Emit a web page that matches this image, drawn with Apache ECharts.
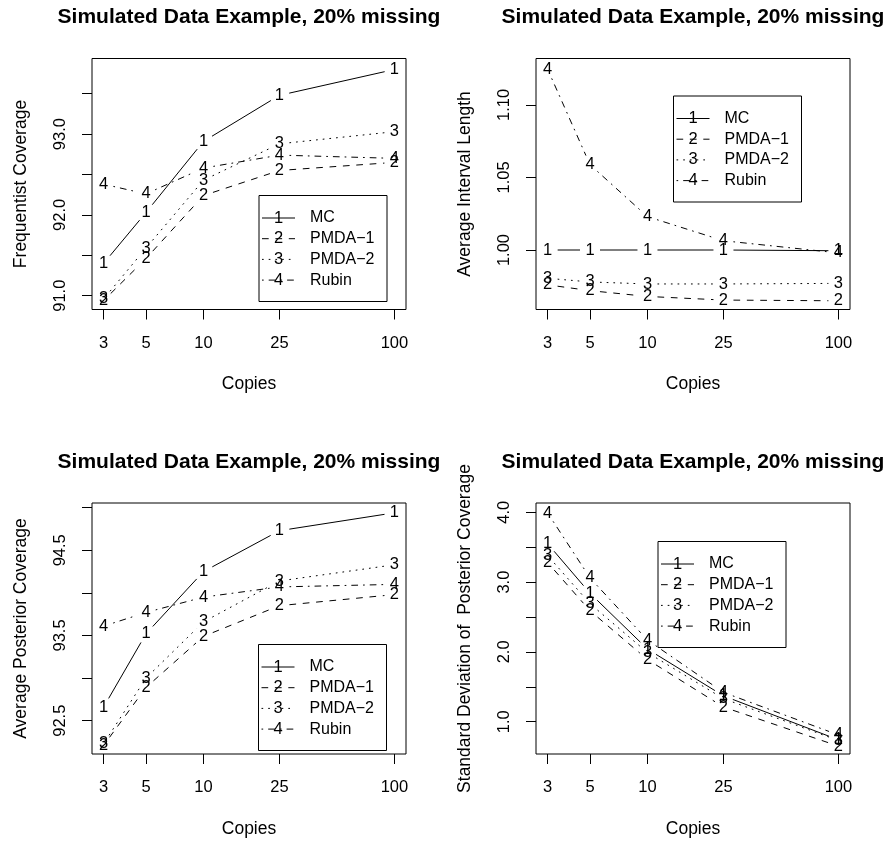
<!DOCTYPE html>
<html><head><meta charset="utf-8">
<script src="https://cdn.jsdelivr.net/npm/echarts@6/dist/echarts.min.js"></script>
<style>html,body{margin:0;padding:0;background:#fff}#c{width:889px;height:842px}</style>
</head><body><div id="c"></div>
<script>
// ---------- data ----------
const copies = [3, 5, 10, 25, 100];
const xTickValues = [3, 5, 10, 25, 100];
const seriesNames = ['MC', 'PMDA\u22121', 'PMDA\u22122', 'Rubin'];
const seriesDigits = ['1', '2', '3', '4'];
const panelTitle = 'Simulated Data Example, 20% missing';
const xAxisTitle = 'Copies';

// Panel 1: Frequentist Coverage
const freqMC    = [91.40, 92.03, 92.91, 93.48, 93.80];
const freqPMDA1 = [90.94, 91.46, 92.24, 92.55, 92.65];
const freqPMDA2 = [90.96, 91.59, 92.43, 92.88, 93.03];
const freqRubin = [92.38, 92.26, 92.58, 92.74, 92.70];
const freqTicks  = [91.0, 91.5, 92.0, 92.5, 93.0, 93.5];
const freqLabels = [91.0, 92.0, 93.0];

// Panel 2: Average Interval Length
const lenMC    = [1.000, 1.000, 1.000, 1.000, 0.9995];
const lenPMDA1 = [0.976, 0.972, 0.968, 0.9655, 0.965];
const lenPMDA2 = [0.9805, 0.978, 0.9766, 0.9766, 0.977];
const lenRubin = [1.1246, 1.0588, 1.023, 1.0064, 0.998];
const lenTicks  = [1.00, 1.05, 1.10];
const lenLabels = [1.00, 1.05, 1.10];

// Panel 3: Average Posterior Coverage
const postMC    = [92.66, 93.52, 94.25, 94.73, 94.94];
const postPMDA1 = [92.21, 92.89, 93.49, 93.85, 93.98];
const postPMDA2 = [92.23, 93.00, 93.66, 94.14, 94.33];
const postRubin = [93.61, 93.77, 93.95, 94.07, 94.10];
const postTicks  = [92.5, 93.0, 93.5, 94.0, 94.5, 95.0];
const postLabels = [92.5, 93.5, 94.5];

// Panel 4: Standard Deviation of Posterior Coverage
const sdMC    = [3.55, 2.84, 2.04, 1.37, 0.74];
const sdPMDA1 = [3.28, 2.59, 1.89, 1.21, 0.65];
const sdPMDA2 = [3.38, 2.69, 1.99, 1.33, 0.73];
const sdRubin = [3.99, 3.06, 2.17, 1.42, 0.81];
const sdTicks  = [1.0, 1.5, 2.0, 2.5, 3.0, 3.5, 4.0];
const sdLabels = [1.0, 2.0, 3.0, 4.0];

// ---------- layout / style ----------
const FONT = '"Liberation Sans", Arial, Helvetica, sans-serif';
const GAP = 10;
const dashes = [null, [6.7, 6.7], [1.7, 5], [1.7, 5, 6.7, 5]];

const panels = [
  { grid: {left: 92, top: 58.5, width: 314, height: 251}, yName: 'Frequentist Coverage',
    ymin: 90.829, ymax: 93.936, ticks: freqTicks, labels: freqLabels, dec: 1,
    vals: [freqMC, freqPMDA1, freqPMDA2, freqRubin], legend: [259, 195.5] },
  { grid: {left: 536, top: 58.5, width: 314, height: 251}, yName: 'Average Interval Length',
    ymin: 0.959, ymax: 1.132, ticks: lenTicks, labels: lenLabels, dec: 2,
    vals: [lenMC, lenPMDA1, lenPMDA2, lenRubin], legend: [673.5, 96] },
  { grid: {left: 92, top: 503, width: 314, height: 251}, yName: 'Average Posterior Coverage',
    ymin: 92.109, ymax: 95.055, ticks: postTicks, labels: postLabels, dec: 1,
    vals: [postMC, postPMDA1, postPMDA2, postRubin], legend: [258.5, 644.5] },
  { grid: {left: 536, top: 503, width: 314, height: 251}, yName: 'Standard Deviation of  Posterior Coverage',
    ymin: 0.537, ymax: 4.133, ticks: sdTicks, labels: sdLabels, dec: 1,
    vals: [sdMC, sdPMDA1, sdPMDA2, sdRubin], legend: [658, 541.5] }
];

function makeRender(vals, k) {
  return function (params, api) {
    const i = params.dataIndex;
    const p = api.coord([copies[i], vals[i]]);
    const children = [{
      type: 'text',
      style: { text: seriesDigits[k], x: p[0], y: p[1], align: 'center', verticalAlign: 'middle',
               fontSize: 16.5, fontFamily: FONT, fill: '#000' }
    }];
    if (i > 0) {
      const q = api.coord([copies[i - 1], vals[i - 1]]);
      const dx = p[0] - q[0], dy = p[1] - q[1];
      const L = Math.hypot(dx, dy);
      if (L > 2 * GAP) {
        const ux = dx / L, uy = dy / L;
        children.push({
          type: 'line',
          shape: { x1: q[0] + ux * GAP, y1: q[1] + uy * GAP, x2: p[0] - ux * GAP, y2: p[1] - uy * GAP },
          style: { stroke: '#000', lineWidth: 1, lineDash: dashes[k], fill: null }
        });
      }
    }
    return { type: 'group', children: children };
  };
}

const grids = [], xAxes = [], yAxes = [], series = [], graphics = [];
panels.forEach((pn, idx) => {
  grids.push(Object.assign({ show: true, borderColor: '#000', borderWidth: 1, backgroundColor: 'transparent', containLabel: false }, pn.grid));
  xAxes.push({
    type: 'log', logBase: 10, gridIndex: idx, min: 2.607, max: 115.0,
    name: xAxisTitle, nameLocation: 'middle', nameGap: 66,
    nameTextStyle: { fontSize: 17.5, fontFamily: FONT, color: '#000' },
    axisLine: { show: false },
    axisTick: { show: true, inside: false, length: 10, lineStyle: { color: '#000', width: 1 }, customValues: xTickValues },
    axisLabel: { show: true, margin: 25, fontSize: 16.5, fontFamily: FONT, color: '#000', customValues: xTickValues,
                 formatter: v => String(Math.round(v)) },
    splitLine: { show: false }, minorTick: { show: false }, minorSplitLine: { show: false }
  });
  yAxes.push({
    type: 'value', gridIndex: idx, min: pn.ymin, max: pn.ymax,
    name: pn.yName, nameLocation: 'middle', nameGap: 62, nameRotate: 90,
    nameTextStyle: { fontSize: 17.5, fontFamily: FONT, color: '#000' },
    axisLine: { show: false },
    axisTick: { show: true, inside: false, length: 10, lineStyle: { color: '#000', width: 1 }, customValues: pn.ticks },
    axisLabel: { show: true, rotate: 90, margin: 23, fontSize: 16.5, fontFamily: FONT, color: '#000',
                 customValues: pn.labels, formatter: v => Number(v).toFixed(pn.dec) },
    splitLine: { show: false }
  });
  pn.vals.forEach((vals, k) => {
    series.push({
      type: 'custom', name: seriesNames[k], xAxisIndex: idx, yAxisIndex: idx,
      data: copies.map((c, i) => [c, vals[i]]),
      renderItem: makeRender(vals, k), clip: false, silent: true
    });
  });
  // title
  const cx = pn.grid.left + pn.grid.width / 2;
  graphics.push({ type: 'text', x: cx, y: pn.grid.top - 41,
    style: { text: panelTitle, align: 'center', verticalAlign: 'middle', fontSize: 21, fontWeight: 'bold', fontFamily: FONT, fill: '#000' } });
  // legend
  const lx = pn.legend[0], ly = pn.legend[1];
  graphics.push({ type: 'rect', shape: { x: lx, y: ly, width: 128, height: 106 },
    style: { fill: null, stroke: '#000', lineWidth: 1 } });
  seriesNames.forEach((nm, k) => {
    const ry = ly + 22.5 + k * 20.7;
    graphics.push({ type: 'line', shape: { x1: lx + 3, y1: ry, x2: lx + 36, y2: ry },
      style: { stroke: '#000', lineWidth: 1, lineDash: dashes[k] } });
    graphics.push({ type: 'text', x: lx + 19.5, y: ry,
      style: { text: seriesDigits[k], align: 'center', verticalAlign: 'middle', fontSize: 16.5, fontFamily: FONT, fill: '#000' } });
    graphics.push({ type: 'text', x: lx + 51, y: ry,
      style: { text: nm, align: 'left', verticalAlign: 'middle', fontSize: 16, fontFamily: FONT, fill: '#000' } });
  });
});

const chart = echarts.init(document.getElementById('c'), null, { renderer: 'canvas' });
chart.setOption({
  animation: false,
  backgroundColor: '#fff',
  grid: grids, xAxis: xAxes, yAxis: yAxes, series: series,
  graphic: graphics
});
</script>
</body></html>
